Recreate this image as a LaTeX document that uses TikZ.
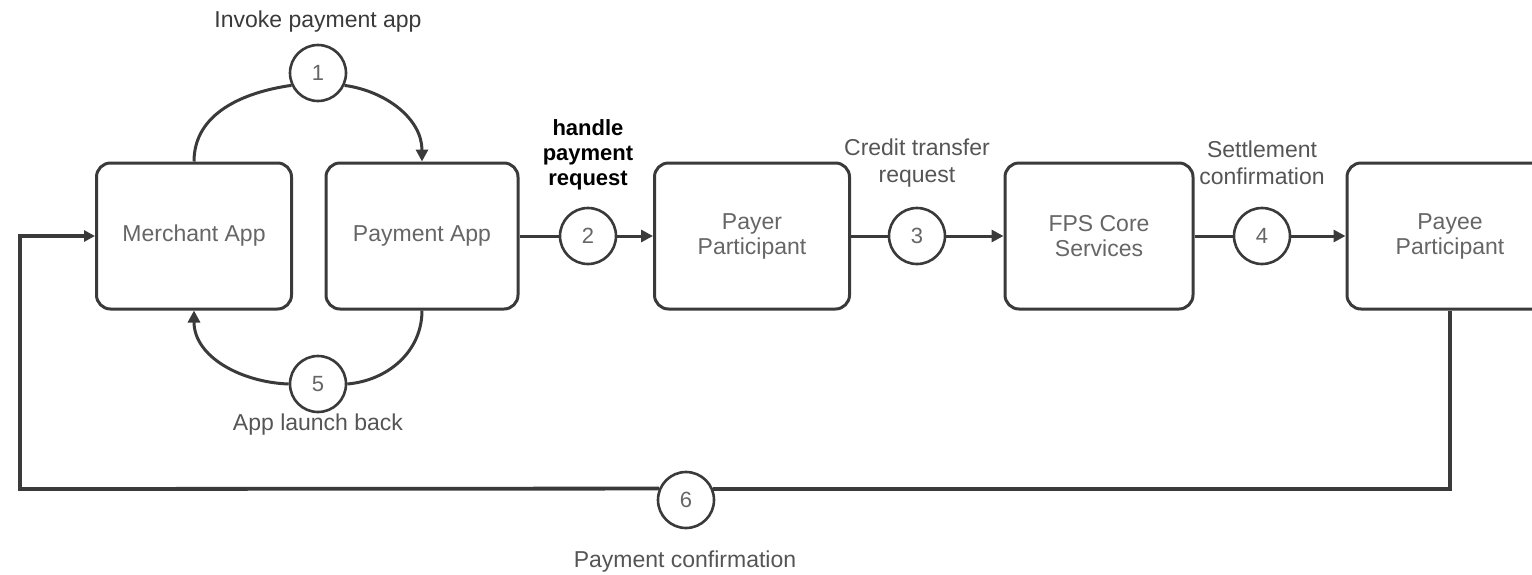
\documentclass[tikz,border=0pt]{standalone}
\usepackage{fontspec}
\setmainfont{Liberation Sans}
\usetikzlibrary{arrows.meta}
\definecolor{linec}{HTML}{3A3A3A}
\definecolor{boxtext}{HTML}{666666}
\definecolor{labtext}{HTML}{555555}
\tikzset{
  box/.style={draw=linec, line width=3pt, rounded corners=14pt, fill=white,
    minimum height=146pt, align=center, text=boxtext,
    font=\fontsize{23}{25}\selectfont},
  num/.style={draw=linec, circle, line width=2.6pt, minimum size=56pt, inner sep=0pt,
    fill=white, text=boxtext, font=\fontsize{22}{25}\selectfont},
  lab/.style={align=center, text=labtext, font=\fontsize{23}{27}\selectfont},
  conn/.style={draw=linec, line width=3pt},
  arr/.style={conn, -{Triangle[length=12pt,width=12pt]}},
}
\begin{document}
\begin{tikzpicture}[x=1pt,y=-1pt]
\useasboundingbox (0,0) rectangle (1532,574);
\begin{scope}
\clip (0,0) rectangle (1532,574);
\coordinate (lc) at (20,489);
\node[box, minimum width=195pt] (merchant) at (194,236) {Merchant App};
\node[box, minimum width=192pt] (payapp) at (422,236) {Payment App};
\node[box, minimum width=195pt] (payer) at (752,236) {Payer\\Participant};
\node[box, minimum width=188pt] (fps) at (1099,236) {FPS Core\\Services};
\node[box, minimum width=206pt] (payee) at (1450,236) {Payee\\Participant};

\node[num] (c1) at (318,73) {1};
\node[num] (c2) at (588,236) {2};
\node[num] (c3) at (917,236) {3};
\node[num] (c4) at (1262,236) {4};
\node[num] (c5) at (318,384) {5};
\node[num] (c6) at (686,500) {6};

% step 1
\draw[conn] (merchant.north) to[out=90,in=188] (c1.205);
\draw[arr] (c1.-25) to[out=-8,in=90] (payapp.north);
% step 5
\draw[conn] (payapp.south) to[out=-90,in=5] (c5.east);
\draw[arr] (c5.west) to[out=178,in=-90] (merchant.south);
% steps 2-4
\draw[conn] (payapp.east) -- (c2.west);
\draw[arr] (c2.east) -- (payer.west);
\draw[conn] (payer.east) -- (c3.west);
\draw[arr] (c3.east) -- (fps.west);
\draw[conn] (fps.east) -- (c4.west);
\draw[arr] (c4.east) -- (payee.west);
% step 6
\draw[conn, line width=4pt] (payee.south) |- (c6.23);
\draw[arr, line width=3.8pt, -{Triangle[length=11pt,width=11pt]}] (c6.157) -- (lc) |- (merchant.west);

% labels
\node[lab, text=linec] (l1) at (318,22) {Invoke payment app};
\node[lab, text=black, font=\bfseries\fontsize{22}{25}\selectfont] (l2) at (588,155) {handle\\payment\\request};
\node[lab] (l3) at (917,163) {Credit transfer\\request};
\node[lab] (l4) at (1262,163) {Settlement\\confirmation};
\node[lab] (l5) at (318,425) {App launch back};
\node[lab] (l6) at (685,562) {Payment confirmation};
\end{scope}
\end{tikzpicture}
\end{document}
